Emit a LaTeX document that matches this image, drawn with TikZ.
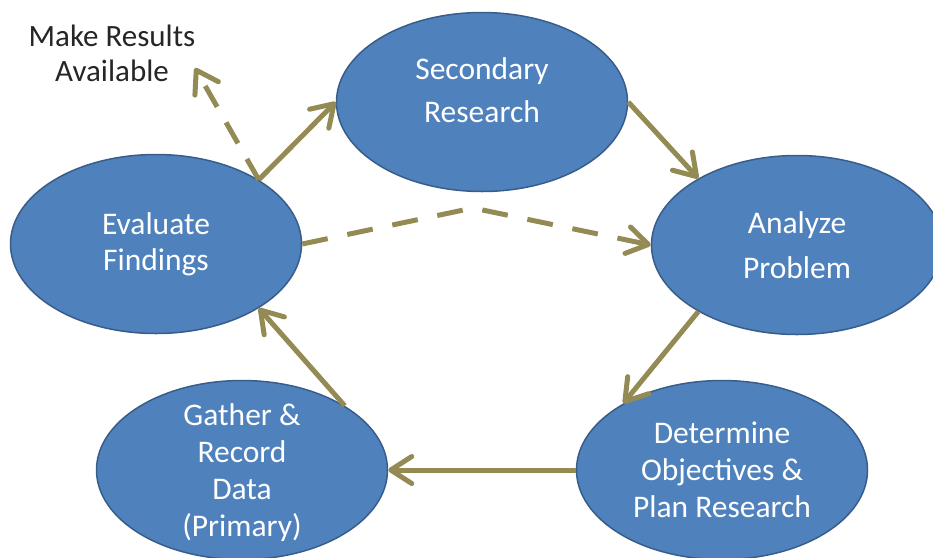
\documentclass[tikz,border=0pt]{standalone}
\usepackage{fontspec}
\setmainfont{Carlito}
\usetikzlibrary{arrows.meta, shapes.geometric, positioning}
\definecolor{stageblue}{HTML}{4F81BD}
\definecolor{stageline}{HTML}{385D8A}
\definecolor{olive}{HTML}{948A54}

\begin{document}
\begin{tikzpicture}[x=1pt, y=-1pt]
                \tikzstyle{stage} = [shape=ellipse, fill=stageblue, draw=stageline, line width=1.5pt, minimum width=291pt, minimum height=179pt, inner xsep=0pt, inner ysep=-20pt, align=center, text=white, font=\fontsize{31.5}{37}\selectfont];
                \tikzstyle{move} = [draw=olive, line width=5pt, -{Straight Barb[length=21pt, width=27pt, round]}];

                \useasboundingbox (0,0) rectangle (933,557);

                \node[stage, font=\fontsize{31.5}{43}\selectfont, text depth=23pt](SR) at (482,102) {Secondary\\Research};
                \node[stage, font=\fontsize{31.5}{45}\selectfont](AP) at (797,245) {Analyze\\Problem};
                \node[stage](DP) at (722,470) {Determine\\Objectives \&\\Plan Research};
                \node[stage, text depth=0pt](GD) at (242,470) {Gather \&\\Record\\Data\\(Primary)};
                \node[stage, font=\fontsize{31.5}{36}\selectfont](EF) at (156,244) {Evaluate\\Findings};

                \node[align=center, text=black!85, font=\fontsize{31}{35}\selectfont](MR) at (112,53) {Make Results\\Available};
                \coordinate (MRtip) at (195,68);
                \coordinate (bend) at (473,208);

                \path
                    (EF.32) edge[move] (SR.west)
                    (SR.east) edge[move] (AP.146)
                    (AP.214) edge[move] (DP.146)
                    (DP.west) edge[move] (GD.east)
                    (GD.32) edge[move] (EF.-32)
                ;

                % optional paths
                \draw[move, dash pattern=on 24pt off 18pt] (EF.32) -- (MRtip);
                \draw[move, dash pattern=on 26pt off 20pt] (EF.east) -- (bend) -- (AP.west);
            \end{tikzpicture}
\end{document}
